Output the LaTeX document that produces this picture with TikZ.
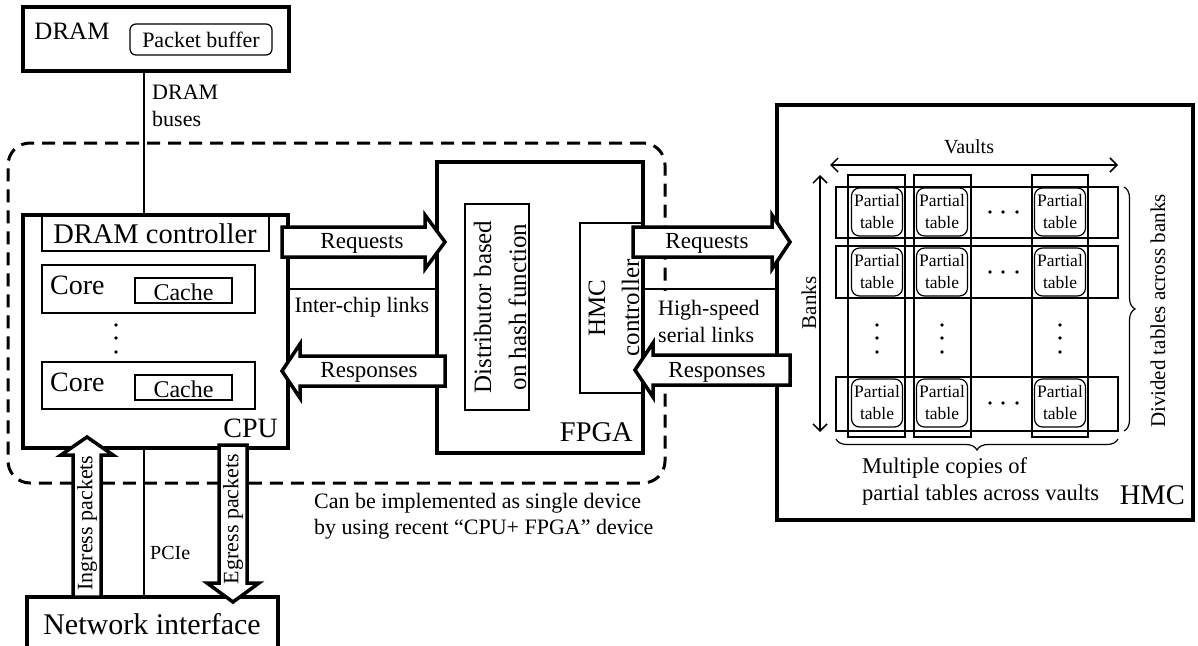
\documentclass[tikz,border=0pt]{standalone}
\usepackage{fontspec}
\setmainfont{Liberation Serif}
\usetikzlibrary{arrows.meta,decorations.pathreplacing,fit,calc}
\newcommand{\myfs}[2]{\fontsize{#1}{#2}\selectfont}
\newcommand{\blkH}[4]{\draw[blockarrow] (#1,#4-15) -- (#2,#4-15) -- (#2,#4-27) -- (#3,#4) -- (#2,#4+27) -- (#2,#4+15) -- (#1,#4+15) -- cycle;}
\newcommand{\blkV}[4]{\draw[blockarrow] (#4-14,#1) -- (#4-14,#2) -- (#4-26,#2) -- (#4,#3) -- (#4+26,#2) -- (#4+14,#2) -- (#4+14,#1) -- cycle;}
\tikzset{
  thickbox/.style={draw, line width=3.5pt, inner sep=0pt, fill=white},
  thinbox/.style={draw, line width=1.2pt, inner sep=0pt},
  ptab/.style={draw, line width=1.2pt, rounded corners=8pt, minimum width=51pt, minimum height=48pt, inner sep=0pt, align=center, font=\myfs{17.5}{22}},
  txt/.style={inner sep=0pt},
  blockarrow/.style={draw, line width=3.5pt, fill=white, line join=miter},
  bus/.style={line width=2pt},
  dimarrow/.style={line width=1.5pt, {Straight Barb[length=7pt,width=14pt]}-{Straight Barb[length=7pt,width=14pt]}},
  dotmark/.style={circle, fill, inner sep=0pt, minimum size=3.6pt},
  bracestyle/.style={line width=1.2pt, decorate, decoration={brace, amplitude=11pt}},
}
\begin{document}
\begin{tikzpicture}[x=1pt,y=-1pt]
\useasboundingbox (0,0) rectangle (1198,645);
% dashed device outline
\node[fit={(8,143) (665,483)}, inner sep=0pt, draw, line width=3pt, dash pattern=on 13pt off 8pt, rounded corners=22pt] (dev) {};
% DRAM
\node[thickbox, fit={(23,7) (289,71)}] (dram) {};
\node[txt, font=\myfs{25}{25}] (dramlbl) at (72,31) {DRAM};
\node[thinbox, rounded corners=6pt, fit={(130,24) (272,55)}] (pbuf) {};
\node[txt, font=\myfs{22}{22}] (pbuftxt) at (pbuf.center) {Packet buffer};
% CPU
\node[thickbox, fit={(23,215) (288,448)}] (cpu) {};
\node[thinbox, fit={(42,215) (269,251)}] (dctl) {};
\node[txt, font=\myfs{28.5}{28.5}] (dctltxt) at (155,234) {DRAM controller};
\node[thinbox, fit={(42,265) (255,313)}] (core1) {};
\node[txt, font=\myfs{28}{28}, anchor=west] (core1txt) at (50,285) {Core};
\node[thinbox, fit={(135,278) (232,303)}] (cache1) {};
\node[txt, font=\myfs{24}{24}] (cache1txt) at (183.5,292) {Cache};
\node[thinbox, fit={(42,362) (255,409)}] (core2) {};
\node[txt, font=\myfs{28}{28}, anchor=west] (core2txt) at (50,382) {Core};
\node[thinbox, fit={(135,375) (232,400)}] (cache2) {};
\node[txt, font=\myfs{24}{24}] (cache2txt) at (183.5,389) {Cache};
\foreach \y [count=\i] in {325,338,352} \node[dotmark] (cdot\i) at (116,\y) {};
\node[txt, font=\myfs{28}{28}, anchor=east] (cpulbl) at (278,428) {CPU};
% FPGA
\node[thickbox, fit={(437,162) (643,453)}] (fpga) {};
\node[thinbox, fit={(465,204) (529,410)}] (dist) {};
\node[txt, rotate=90, align=center, font=\myfs{25}{35}] (disttxt) at (500,307) {Distributor based\\on hash function};
\node[thinbox, fit={(580,223) (643,393)}] (hmcc) {};
\node[txt, anchor=east, font=\myfs{28.5}{28.5}] (fpgalbl) at (633,432) {FPGA};
% HMC
\node[thickbox, fit={(777,105) (1193,520)}] (hmc) {};
% DRAM bus
\coordinate (bx) at (144,0);
\draw[bus] (dram.south -| bx) -- (cpu.north -| bx);
\node[txt, anchor=west, align=left, font=\myfs{22}{27}] (dbus) at (152,106) {DRAM\\buses};
% links
\coordinate (sep) at (0,289);
\draw[bus] (cpu.east |- sep) -- (fpga.west |- sep);
\node[fill=white, inner sep=0pt, fit={(646,290.5) (774,354)}] (hslbg) {};
\draw[bus] (fpga.east |- sep) -- (hmc.west |- sep);
\blkH{282}{425}{445}{242}
\blkH{445}{300}{282}{371}
\blkH{633}{772}{790}{242}
\blkH{790}{653}{635}{370}
\node[txt, rotate=90, align=center, font=\myfs{25}{34}] (hmcctxt) at (614,308) {HMC\\controller};
\node[txt, font=\myfs{23}{23}] (req1) at (362,243) {Requests};
\node[txt, font=\myfs{22}{22}] (icl) at (362,307) {Inter-chip links};
\node[txt, font=\myfs{23}{23}] (resp1) at (369,372) {Responses};
\node[txt, font=\myfs{23}{23}] (req2) at (707,243) {Requests};
\node[txt, font=\myfs{23}{23}] (resp2) at (717,372) {Responses};
\node[txt, anchor=west, align=left, font=\myfs{22}{27}] (hsl) at (658,321) {High-speed\\serial links};
% HMC internals
\foreach \ya/\yb [count=\i] in {187/238,246/298,377/431}
  \node[thinbox, fit={(836,\ya) (1118,\yb)}] (row\i) {};
\foreach \xa/\xb [count=\j] in {848/905,914/971,1032/1088}
  \node[thinbox, fit={(\xa,175) (\xb,437)}] (col\j) {};
\foreach \x [count=\j] in {877,942,1060}
  \foreach \y [count=\i] in {212,272,403}
    \node[ptab] (pt\i\j) at (\x,\y) {Partial\\table};
\foreach \y [count=\i] in {212,272,403}
  \foreach \x [count=\k] in {990,1003,1017}
    \node[dotmark] (hd\i\k) at (\x,\y) {};
\foreach \x [count=\j] in {877,942,1060}
  \foreach \y [count=\k] in {325,338,352}
    \node[dotmark] (vd\j\k) at (\x,\y) {};
\coordinate (va) at (830,165);
\coordinate (vb) at (1118,165);
\draw[dimarrow] (va) -- (vb);
\node[txt, font=\myfs{20}{20}] (vaults) at (969,147) {Vaults};
\coordinate (ba) at (820,175);
\coordinate (bb) at (820,432);
\draw[dimarrow] (ba) -- (bb);
\node[txt, rotate=90, font=\myfs{21}{21}] (banks) at (809,303) {Banks};
\coordinate (bra) at (1124,187);
\coordinate (brd) at (1124,431);
\draw[bracestyle] (bra) -- (brd);
\node[txt, rotate=90, font=\myfs{21}{21}] (divided) at (1158,311) {Divided tables across banks};
\coordinate (brb) at (1118,439);
\coordinate (brc) at (836,439);
\draw[bracestyle] (brb) -- (brc);
\node[txt, anchor=west, align=left, font=\myfs{22.5}{27}] (multi) at (862,481) {Multiple copies of\\partial tables across vaults};
\node[txt, anchor=east, font=\myfs{28.5}{28.5}] (hmclbl) at (1185,495) {HMC};
% network interface
\node[thickbox, fit={(27,597) (278,652)}] (ni) {};
\node[txt, font=\myfs{30}{30}] (nitxt) at (152,624) {Network interface};
\coordinate (px) at (144,0);
\draw[bus] (cpu.south -| px) -- (ni.north -| px);
\node[txt, anchor=west, font=\myfs{20}{20}] (pcie) at (150,553) {PCIe};
\blkV{597}{455}{437}{87}
\blkV{445}{583}{602}{233}
\node[txt, rotate=90, font=\myfs{22}{22}] (ingress) at (87,523) {Ingress packets};
\node[txt, rotate=90, font=\myfs{22}{22}] (egress) at (233,519) {Egress packets};
% note
\node[txt, anchor=west, align=left, font=\myfs{22}{26}] (note) at (314,516) {Can be implemented as single device\\by using recent “CPU+ FPGA” device};
\end{tikzpicture}
\end{document}
